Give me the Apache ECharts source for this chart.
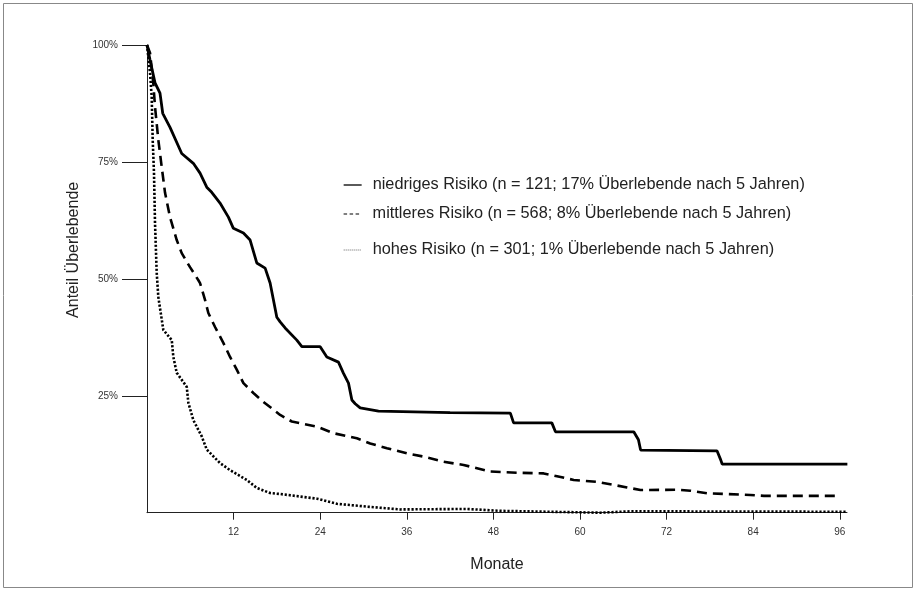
<!DOCTYPE html>
<html>
<head>
<meta charset="utf-8">
<script src="https://cdn.jsdelivr.net/npm/echarts@6/dist/echarts.min.js"></script>
<style>
html,body{margin:0;padding:0;background:#fff;}
#chart{width:917px;height:592px;}
</style>
</head>
<body>
<div id="chart"></div>
<script>
// Months (x) and survival in % (y) for each risk group
var lowT  = [0, 0.42, 1.11, 1.80, 2.18, 3.19, 4.81, 6.42, 7.35, 8.28, 8.97, 10.12, 11.28, 11.97, 13.36, 14.29, 15.21, 16.37, 17.06, 17.99, 18.45, 19.14, 20.76, 21.46, 24.0, 24.92, 26.53, 27.23, 27.92, 28.39, 28.85, 29.54, 32.08, 32.32, 42.0, 50.35, 50.8, 56.1, 56.6, 67.45, 68.1, 68.4, 79.0, 79.5, 79.7, 97.05];
var lowS  = [100, 96.8, 91.9, 89.7, 85.4, 82.4, 76.8, 74.7, 72.6, 69.6, 68.5, 66.2, 63.2, 60.8, 59.8, 58.3, 53.4, 52.3, 49.1, 41.8, 40.8, 39.5, 36.9, 35.5, 35.5, 33.3, 32.2, 29.8, 27.7, 24.1, 23.3, 22.4, 21.7, 21.3, 21.4, 21.3, 19.2, 19.2, 17.3, 17.3, 15.6, 13.4, 13.2, 11.3, 10.4, 10.4];

var midT  = [0, 0.42, 0.87, 1.11, 1.57, 2.04, 2.50, 3.19, 4.12, 4.81, 5.96, 7.12, 7.35, 8.04, 8.50, 9.43, 10.58, 11.51, 12.44, 13.36, 14.74, 16.13, 18.45, 20.07, 23.54, 25.84, 29.08, 30.93, 33.25, 36.02, 38.32, 41.10, 43.87, 45.73, 47.57, 51.28, 54.97, 56.82, 59.13, 62.37, 66.53, 68.38, 73.47, 75.3, 77.6, 83.6, 85.5, 96.1];
var midS  = [100, 98.3, 91.9, 86.8, 79.7, 73.9, 68.4, 63.2, 58.3, 55.5, 52.5, 49.7, 49.1, 45.5, 42.7, 39.7, 36.3, 33.3, 30.6, 27.7, 25.6, 23.7, 20.9, 19.5, 18.4, 17.0, 15.9, 14.8, 13.8, 12.7, 12.0, 10.9, 10.2, 9.5, 8.8, 8.55, 8.4, 7.8, 7.0, 6.6, 5.4, 4.85, 4.9, 4.7, 4.15, 3.8, 3.6, 3.6];

var highT = [0, 0.42, 0.65, 0.79, 0.97, 1.11, 1.35, 1.57, 2.26, 3.43, 3.65, 4.12, 5.51, 5.73, 6.42, 7.59, 8.28, 10.12, 11.51, 13.83, 15.21, 17.06, 18.45, 23.54, 26.3, 30.47, 35.09, 44.34, 48.96, 62.8, 66.99, 97.05];
var highS = [100, 94.0, 88.9, 79.7, 72.6, 61.9, 51.2, 46.1, 39.1, 36.9, 33.3, 29.9, 26.9, 23.5, 19.8, 16.3, 13.5, 10.6, 9.1, 7.0, 5.3, 4.2, 4.0, 3.0, 1.9, 1.3, 0.7, 0.8, 0.4, 0.0, 0.3, 0.2];

var xTicks = [12, 24, 36, 48, 60, 72, 84, 96];
var yTicks = [25, 50, 75, 100];

var names = [
  'niedriges Risiko (n = 121; 17% Überlebende nach 5 Jahren)',
  'mittleres Risiko (n = 568; 8% Überlebende nach 5 Jahren)',
  'hohes Risiko (n = 301; 1% Überlebende nach 5 Jahren)'
];

function pairs(t, s) { return t.map(function (v, i) { return [v, s[i]]; }); }

var FONT = 'Liberation Sans, Arial, sans-serif';

var chart = echarts.init(document.getElementById('chart'), null, {renderer: 'canvas'});

function legendCfg(idx, top, ls) {
  return {
    data: [{name: names[idx], itemStyle: {opacity: 0}, lineStyle: ls}],
    left: 338, top: top,
    itemWidth: 18, itemHeight: 14,
    selectedMode: false,
    textStyle: {fontFamily: FONT, fontSize: 16.3, color: '#222', padding: [0, 0, 0, 6]}
  };
}

var option = {
  animation: false,
  backgroundColor: '#fff',
  graphic: [{
    type: 'rect', shape: {x: 3.5, y: 3.5, width: 909, height: 584},
    style: {fill: 'none', stroke: '#888', lineWidth: 1}, silent: true
  }],
  grid: {left: 147, top: 45, width: 700, height: 467.7, containLabel: false},
  legend: [
    legendCfg(0, 172, {color: '#000', width: 1.3, type: 'solid'}),
    legendCfg(1, 201, {color: '#000', width: 1.2, type: [3.5, 2.5]}),
    legendCfg(2, 237, {color: '#999', width: 1.4, type: [1, 1]})
  ],
  xAxis: {
    type: 'value', min: 0, max: 97, interval: 12,
    name: 'Monate', nameLocation: 'middle', nameGap: 44,
    nameTextStyle: {fontFamily: FONT, fontSize: 16, color: '#222'},
    axisLine: {show: true, lineStyle: {color: '#222', width: 1}},
    axisTick: {show: true, length: 7, customValues: xTicks, lineStyle: {color: '#222'}},
    axisLabel: {customValues: xTicks, fontFamily: FONT, fontSize: 10, color: '#333', margin: 15},
    splitLine: {show: false}
  },
  yAxis: {
    type: 'value', min: 0, max: 100, interval: 25,
    name: 'Anteil Überlebende', nameLocation: 'middle', nameGap: 59,
    nameTextStyle: {fontFamily: FONT, fontSize: 16, color: '#222', padding: [0, 0, 0, 58]},
    axisLine: {show: true, lineStyle: {color: '#222', width: 1}},
    axisTick: {show: true, length: 25, customValues: yTicks, lineStyle: {color: '#222'}},
    axisLabel: {customValues: yTicks, formatter: '{value}%', fontFamily: FONT, fontSize: 10, color: '#333', margin: 29},
    splitLine: {show: false}
  },
  series: [
    {
      name: names[0], type: 'line', data: pairs(lowT, lowS), showSymbol: false, symbol: 'none',
      itemStyle: {color: '#000'},
      lineStyle: {color: '#000', width: 2.8, type: 'solid'}
    },
    {
      name: names[1], type: 'line', data: pairs(midT, midS), showSymbol: false, symbol: 'none',
      itemStyle: {color: '#000'},
      lineStyle: {color: '#000', width: 2.6, type: [10, 6]}
    },
    {
      name: names[2], type: 'line', data: pairs(highT, highS), showSymbol: false, symbol: 'none',
      itemStyle: {color: '#000'},
      lineStyle: {color: '#000', width: 2.6, type: [2.2, 1.8]}
    }
  ]
};
chart.setOption(option);
</script>
</body>
</html>
